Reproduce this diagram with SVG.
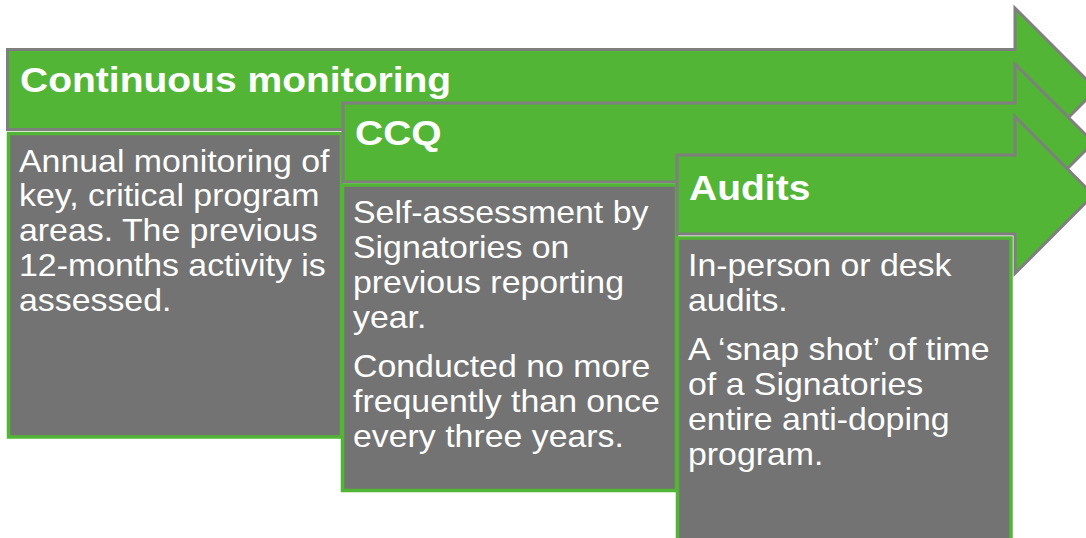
<svg xmlns="http://www.w3.org/2000/svg" width="1086" height="538" viewBox="0 0 1086 538">
<style>
.arrow{fill:#52B535;stroke:#7F7F7F;stroke-width:3;stroke-linejoin:miter}
.box{fill:#737373;stroke:#52B535;stroke-width:3.5}
.hd{font-family:"Liberation Sans",Arial,sans-serif;font-weight:bold;font-size:35px;fill:#FFFFFF}
.tx{font-family:"Liberation Sans",Arial,sans-serif;font-size:30.5px;fill:#FFFFFF}
</style>
<rect width="1086" height="538" fill="#FFFFFF"/>
<g id="connectors"></g>
<g id="node-continuous">
<polygon class="arrow" points="7.5,49.5 1015,49.5 1015,8 1096.5,89.5 1015,171 1015,129.5 7.5,129.5"/>
<rect class="box" x="8.5" y="133.5" width="333" height="303.5"/>
<g transform="translate(20,0) scale(1.115,1)"><text class="hd" x="0" y="92">Continuous monitoring</text></g>
<g transform="translate(19,0) scale(1.11,1)">
<text class="tx" x="0" y="172">Annual monitoring of</text>
<text class="tx" x="0" y="206.5">key, critical program</text>
<text class="tx" x="0" y="241.5">areas. The previous</text>
<text class="tx" x="0" y="276.5">12-months activity is</text>
<text class="tx" x="0" y="311.5">assessed.</text>
</g>
</g>
<g id="node-ccq">
<polygon class="arrow" points="343,103 1015,103 1015,64 1093.5,142.5 1015,221 1015,182 343,182"/>
<rect class="box" x="342.5" y="185" width="334" height="305.5"/>
<g transform="translate(355,0) scale(1.115,1)"><text class="hd" x="0" y="145">CCQ</text></g>
<g transform="translate(353,0) scale(1.11,1)">
<text class="tx" x="0" y="223.5">Self-assessment by</text>
<text class="tx" x="0" y="258.5">Signatories on</text>
<text class="tx" x="0" y="293.5">previous reporting</text>
<text class="tx" x="0" y="328">year.</text>
<text class="tx" x="0" y="377">Conducted no more</text>
<text class="tx" x="0" y="412">frequently than once</text>
<text class="tx" x="0" y="447">every three years.</text>
</g>
</g>
<g id="node-audits">
<polygon class="arrow" points="677,155 1015,155 1015,116.5 1093.5,195 1015,273.5 1015,234 677,234"/>
<rect class="box" x="677.5" y="238" width="333.5" height="310"/>
<g transform="translate(689,0) scale(1.115,1)"><text class="hd" x="0" y="200.5">Audits</text></g>
<g transform="translate(688,0) scale(1.11,1)">
<text class="tx" x="0" y="276.5">In-person or desk</text>
<text class="tx" x="0" y="311.5">audits.</text>
<text class="tx" x="0" y="360">A ‘snap shot’ of time</text>
<text class="tx" x="0" y="395">of a Signatories</text>
<text class="tx" x="0" y="430">entire anti-doping</text>
<text class="tx" x="0" y="465">program.</text>
</g>
</g>
</svg>
